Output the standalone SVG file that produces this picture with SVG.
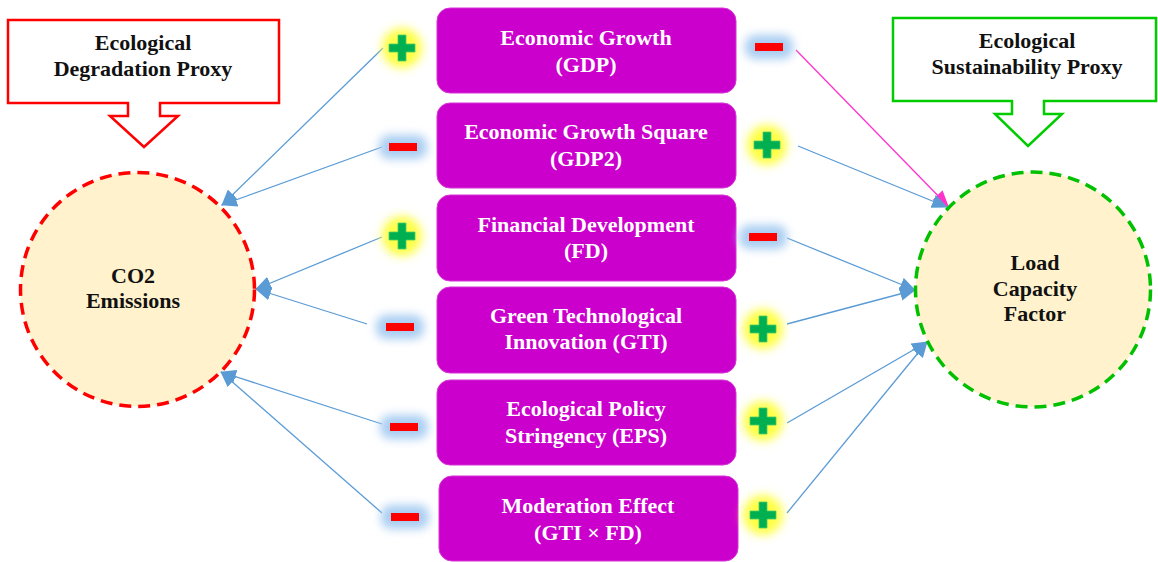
<svg xmlns="http://www.w3.org/2000/svg" width="1158" height="562" viewBox="0 0 1158 562">
<defs>
<style>
.box{fill:#CC00CC;stroke:#D633D6;stroke-width:1}
.bt{font-family:"Liberation Serif",serif;font-weight:bold;font-size:22px;fill:#FFFFFF;text-anchor:middle}
.ct{font-family:"Liberation Serif",serif;font-weight:bold;font-size:22px;fill:#111111;text-anchor:middle}
.conn{stroke:#5B9BD5;stroke-width:1.3;fill:none;marker-end:url(#ab)}
.connm{stroke:#FF33CC;stroke-width:1.3;fill:none;marker-end:url(#am)}
.plus{fill:#00B050;stroke:#4CCB6A;stroke-width:0.8}
.pglow{fill:#FFFF44;filter:url(#blurY)}
.mglow{fill:#A9CDF2;filter:url(#blurB)}
.minus{fill:#FF0000}
</style>
<marker id="ab" markerUnits="userSpaceOnUse" markerWidth="16" markerHeight="14" refX="15" refY="7" orient="auto">
<path d="M0,0 L16,7 L0,14 Z" fill="#5B9BD5"/>
</marker>
<marker id="am" markerUnits="userSpaceOnUse" markerWidth="16" markerHeight="14" refX="15" refY="7" orient="auto">
<path d="M0,0 L16,7 L0,14 Z" fill="#FF33CC"/>
</marker>
<filter id="blurY" x="-50%" y="-50%" width="200%" height="200%"><feGaussianBlur stdDeviation="5"/></filter>
<filter id="blurB" x="-50%" y="-80%" width="200%" height="260%"><feGaussianBlur stdDeviation="5"/></filter>
<g id="plusSym">
<circle class="pglow" cx="0" cy="0" r="20"/>
<path class="plus" d="M-4,-13 H4 V-4 H13 V4 H4 V13 H-4 V4 H-13 V-4 H-4 Z"/>
</g>
<g id="minusSym">
<rect class="mglow" x="-24" y="-12" width="48" height="24" rx="10"/>
<rect class="minus" x="-14" y="-4" width="28" height="8"/>
</g>
</defs>
<rect width="1158" height="562" fill="#FFFFFF"/>

<g id="callout-degradation">
<path d="M8,20 H279 V103 H160 V116 H178 L144,147 L110,116 H128 V103 H8 Z" fill="#FFFFFF" stroke="#FF0000" stroke-width="2.5"/>
<text class="ct" x="143" y="50">Ecological</text>
<text class="ct" x="143" y="76">Degradation Proxy</text>
</g>

<g id="callout-sustainability">
<path d="M893,18 H1156 V101 H1044 V114 H1062 L1028,146 L995,114 H1012 V101 H893 Z" fill="#FFFFFF" stroke="#00CC00" stroke-width="2.5"/>
<text class="ct" x="1027" y="48">Ecological</text>
<text class="ct" x="1027" y="74">Sustainability Proxy</text>
</g>

<g id="connectors">
<line class="conn" x1="383" y1="48" x2="222" y2="205"/>
<line class="conn" x1="382" y1="147" x2="222" y2="205"/>
<line class="conn" x1="382" y1="237" x2="256" y2="289"/>
<line class="conn" x1="367" y1="324" x2="256" y2="289"/>
<line class="conn" x1="382" y1="424" x2="221" y2="372"/>
<line class="conn" x1="382" y1="513" x2="221" y2="372"/>
<line class="connm" x1="796" y1="50" x2="948" y2="206"/>
<line class="conn" x1="798" y1="146" x2="947" y2="207"/>
<line class="conn" x1="787" y1="238" x2="915" y2="290"/>
<line class="conn" x1="787" y1="324" x2="915" y2="290"/>
<line class="conn" x1="787" y1="423" x2="927" y2="342"/>
<line class="conn" x1="787" y1="513" x2="927" y2="342"/>
</g>

<g id="node-co2">
<circle cx="137.5" cy="289.5" r="117" fill="#FFF2CC" stroke="#FF0000" stroke-width="3.5" stroke-dasharray="12 7"/>
<text class="ct" x="133" y="283">CO2</text>
<text class="ct" x="133" y="308">Emissions</text>
</g>

<g id="node-lcf">
<circle cx="1033" cy="289.5" r="117.5" fill="#FFF2CC" stroke="#00C000" stroke-width="3.5" stroke-dasharray="12 7"/>
<text class="ct" x="1035" y="270">Load</text>
<text class="ct" x="1035" y="296">Capacity</text>
<text class="ct" x="1035" y="321">Factor</text>
</g>

<g id="node-gdp">
<rect class="box" x="437" y="8" width="299" height="85" rx="13"/>
<text class="bt" x="586" y="45">Economic Growth</text>
<text class="bt" x="586" y="72">(GDP)</text>
</g>
<g id="node-gdp2">
<rect class="box" x="437" y="103" width="299" height="85" rx="13"/>
<text class="bt" x="586" y="139">Economic Growth Square</text>
<text class="bt" x="586" y="166">(GDP2)</text>
</g>
<g id="node-fd">
<rect class="box" x="437" y="195" width="299" height="86" rx="13"/>
<text class="bt" x="586" y="232">Financial Development</text>
<text class="bt" x="586" y="258">(FD)</text>
</g>
<g id="node-gti">
<rect class="box" x="437" y="287" width="299" height="86" rx="13"/>
<text class="bt" x="586" y="323">Green Technological</text>
<text class="bt" x="586" y="349">Innovation (GTI)</text>
</g>
<g id="node-eps">
<rect class="box" x="437" y="380" width="299" height="85" rx="13"/>
<text class="bt" x="586" y="416">Ecological Policy</text>
<text class="bt" x="586" y="443">Stringency (EPS)</text>
</g>
<g id="node-mod">
<rect class="box" x="439" y="476" width="299" height="85" rx="13"/>
<text class="bt" x="588" y="513">Moderation Effect</text>
<text class="bt" x="588" y="540">(GTI × FD)</text>
</g>

<g id="signs">
<use href="#plusSym" x="402" y="48"/>
<use href="#minusSym" x="403" y="147"/>
<use href="#plusSym" x="402" y="236"/>
<use href="#minusSym" x="400" y="327"/>
<use href="#minusSym" x="404" y="427"/>
<use href="#minusSym" x="405" y="517"/>
<use href="#minusSym" x="769" y="47"/>
<use href="#plusSym" x="767" y="145"/>
<use href="#minusSym" x="763" y="237"/>
<use href="#plusSym" x="763" y="329"/>
<use href="#plusSym" x="763" y="421"/>
<use href="#plusSym" x="763" y="515"/>
</g>
</svg>
